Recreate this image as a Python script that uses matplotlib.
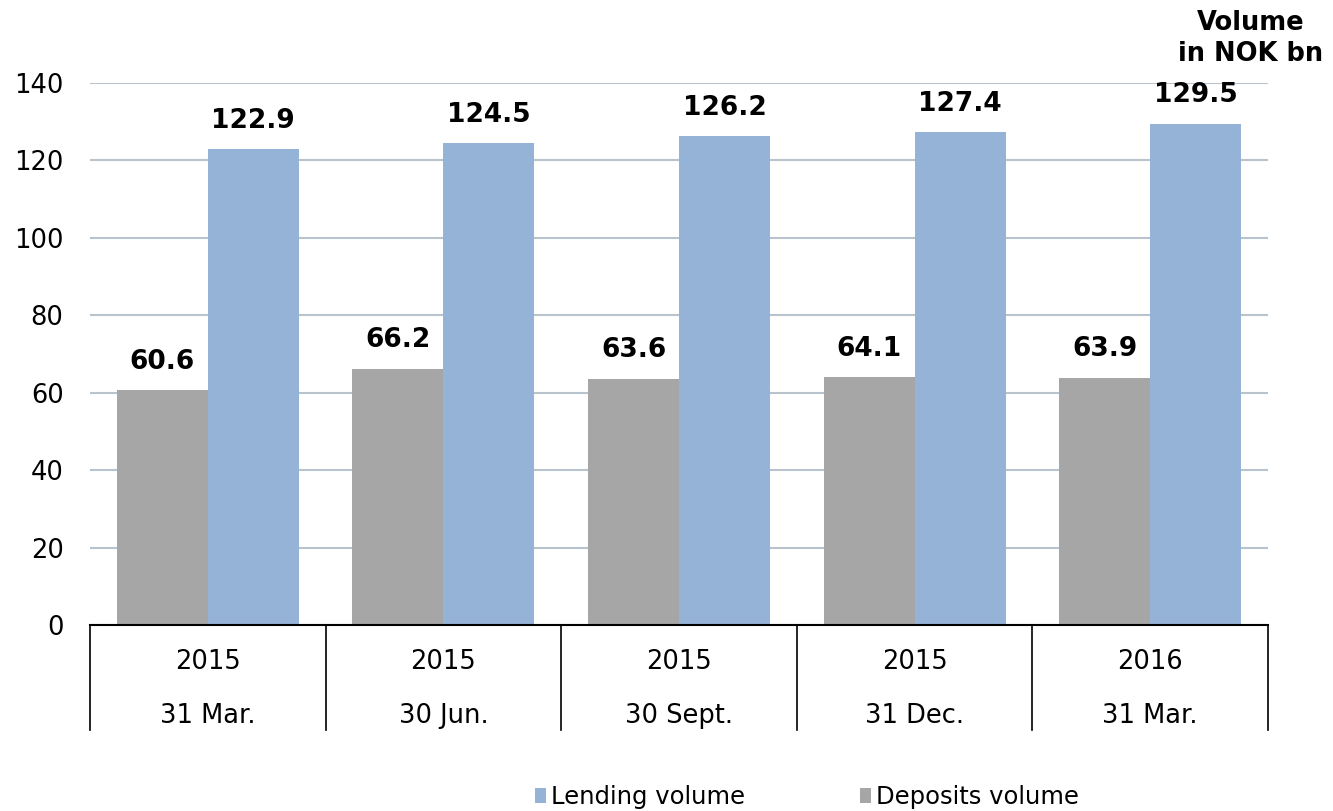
import numpy as np
import matplotlib.pyplot as plt
import matplotlib.transforms as mtransforms

years = ['2015', '2015', '2015', '2015', '2016']
dates = ['31 Mar.', '30 Jun.', '30 Sept.', '31 Dec.', '31 Mar.']
deposits = [60.6, 66.2, 63.6, 64.1, 63.9]
lending = [122.9, 124.5, 126.2, 127.4, 129.5]

c_lend = '#95b3d7'
c_dep = '#a6a6a6'

plt.rcParams['font.family'] = ['DejaVu Sans']

fig = plt.figure(figsize=(13.33, 8.11), dpi=100)
ax = fig.add_axes([90/1333, 1-625/811, 1178/1333, 542/811])

x = np.arange(len(years))
w = 0.386
b1 = ax.bar(x - w/2, deposits, w, color=c_dep, label='Deposits volume', zorder=3)
b2 = ax.bar(x + w/2, lending, w, color=c_lend, label='Lending volume', zorder=3)

for bars, vals in ((b1, deposits), (b2, lending)):
    for r, v in zip(bars, vals):
        ax.annotate(f'{v:.1f}', (r.get_x() + r.get_width()/2, v),
                    xytext=(0, 11), textcoords='offset points',
                    ha='center', va='bottom', fontsize=19, fontweight='bold')

ax.set_xlim(-0.5, len(years) - 0.5)
ax.set_ylim(0, 140)
ax.set_yticks(range(0, 141, 20))
ax.tick_params(axis='y', length=0, labelsize=18.5, pad=19)
ax.set_xticks([])
ax.grid(axis='y', color='#b9c3cd', linewidth=1.5, zorder=0)
for s in ['top', 'right', 'left']:
    ax.spines[s].set_visible(False)
ax.spines['bottom'].set_color('black')
ax.spines['bottom'].set_linewidth(1.5)
ax.spines['bottom'].set_zorder(4)

# category table below axis
trans = mtransforms.blended_transform_factory(ax.transData, ax.transAxes)
for xs in np.arange(-0.5, len(years), 1.0):
    ax.plot([xs, xs], [0, -105/542], transform=trans, color='black',
            linewidth=1.2, clip_on=False)
for i in range(len(years)):
    ax.text(i, -37/542, years[i], transform=trans, ha='center', va='center', fontsize=18.5)
    ax.text(i, -91/542, dates[i], transform=trans, ha='center', va='center', fontsize=18.5)

fig.text(1251/1333, 1-23/811, 'Volume', ha='center', va='center',
         fontsize=18.5, fontweight='bold')
fig.text(1251/1333, 1-54/811, 'in NOK bn', ha='center', va='center',
         fontsize=18.5, fontweight='bold')

handles = [b2, b1]
fig.legend(handles, [h.get_label() for h in handles], loc='center',
           bbox_to_anchor=(807/1333, 1-797/811), ncol=2, frameon=False,
           fontsize=17.5, handlelength=0.45, handleheight=0.6, handletextpad=0.22,
           columnspacing=4.72)

fig.savefig('out.png', dpi=100)
